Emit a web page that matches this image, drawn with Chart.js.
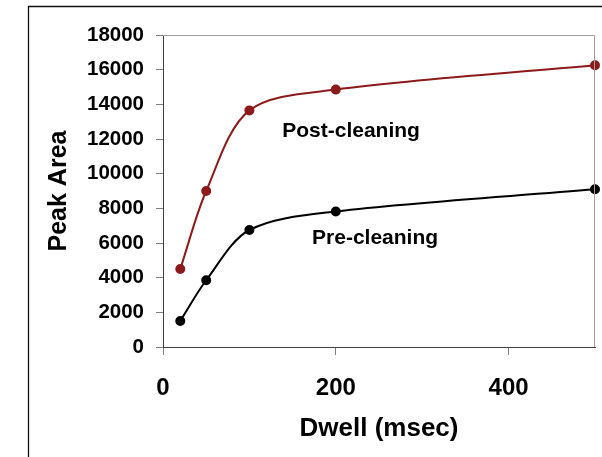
<!DOCTYPE html>
<html>
<head>
<meta charset="utf-8">
<script src="https://cdn.jsdelivr.net/npm/chart.js@4/dist/chart.umd.min.js"></script>
<style>
  html, body { margin: 0; padding: 0; background: #ffffff; }
  canvas { display: block; }
</style>
</head>
<body>
<canvas id="chart" width="602" height="457"></canvas>
<script>
// Dwell time (msec) and measured peak areas
const dwell = [20, 50, 100, 200, 500];
const postCleaning = [4500, 9000, 13650, 14850, 16250];
const preCleaning = [1500, 3850, 6750, 7820, 9100];

const xTicks = [0, 200, 400];
const yTicks = [0, 2000, 4000, 6000, 8000, 10000, 12000, 14000, 16000, 18000];

// Series names are written inside the plot, next to each curve
const seriesLabels = [
  { text: 'Post-cleaning', x: 138, y: 12130 },
  { text: 'Pre-cleaning', x: 172.5, y: 5940 }
];

const FONT = '"Liberation Sans", Arial, Helvetica, sans-serif';
const RED = '#8c1a1a';

const framePlugin = {
  id: 'frame',
  beforeDraw(chart) {
    const ctx = chart.ctx;
    ctx.save();
    ctx.fillStyle = '#ffffff';
    ctx.fillRect(0, 0, chart.width, chart.height);
    // outer frame (left and top edges)
    ctx.strokeStyle = '#111111';
    ctx.lineWidth = 1.3;
    ctx.beginPath();
    ctx.moveTo(28.5, chart.height);
    ctx.lineTo(28.5, 6.5);
    ctx.lineTo(chart.width, 6.5);
    ctx.stroke();
    ctx.restore();
  },
  afterDraw(chart) {
    const ctx = chart.ctx;
    const a = chart.chartArea;
    ctx.save();
    // light border on top and right of the plot area
    ctx.strokeStyle = '#a0a0a0';
    ctx.lineWidth = 1;
    ctx.beginPath();
    ctx.moveTo(a.left, a.top + 0.5);
    ctx.lineTo(a.right - 0.5, a.top + 0.5);
    ctx.lineTo(a.right - 0.5, a.bottom);
    ctx.stroke();
    // series names
    const xs = chart.scales.x, ys = chart.scales.y;
    ctx.fillStyle = '#000000';
    ctx.font = 'bold 21px ' + FONT;
    ctx.textAlign = 'left';
    ctx.textBaseline = 'alphabetic';
    seriesLabels.forEach(l => {
      ctx.fillText(l.text, xs.getPixelForValue(l.x), ys.getPixelForValue(l.y));
    });
    ctx.restore();
  }
};

new Chart(document.getElementById('chart'), {
  type: 'line',
  data: {
    datasets: [
      {
        label: 'Post-cleaning',
        data: dwell.map((d, i) => ({ x: d, y: postCleaning[i] })),
        borderColor: RED,
        backgroundColor: RED,
        pointBackgroundColor: RED,
        pointBorderColor: RED,
        borderWidth: 2,
        pointRadius: 4,
        tension: 0.32,
        clip: false
      },
      {
        label: 'Pre-cleaning',
        data: dwell.map((d, i) => ({ x: d, y: preCleaning[i] })),
        borderColor: '#000000',
        backgroundColor: '#000000',
        pointBackgroundColor: '#000000',
        pointBorderColor: '#000000',
        borderWidth: 2,
        pointRadius: 4,
        tension: 0.32,
        clip: false
      }
    ]
  },
  options: {
    responsive: false,
    animation: false,
    devicePixelRatio: 1,
    layout: { padding: { left: 0, top: 35, right: 7, bottom: 0 } },
    plugins: {
      legend: { display: false },
      tooltip: { enabled: false }
    },
    scales: {
      x: {
        type: 'linear',
        min: 0,
        max: 500,
        afterFit(scale) { scale.height = 110; },
        afterBuildTicks(scale) { scale.ticks = xTicks.map(v => ({ value: v })); },
        ticks: {
          color: '#000000',
          font: { family: FONT, size: 24, weight: 'bold' },
          padding: 19,
          maxRotation: 0,
          callback: v => String(v)
        },
        grid: { drawOnChartArea: false, drawTicks: true, tickLength: 8, color: '#808080' },
        border: { display: true, color: '#404040', width: 1 },
        title: {
          display: true,
          text: 'Dwell (msec)',
          color: '#000000',
          font: { family: FONT, size: 26, weight: 'bold' },
          padding: { top: 13, bottom: 13 }
        }
      },
      y: {
        type: 'linear',
        min: 0,
        max: 18000,
        afterFit(scale) { scale.width = 163; },
        afterBuildTicks(scale) { scale.ticks = yTicks.map(v => ({ value: v })); },
        ticks: {
          color: '#000000',
          font: { family: FONT, size: 20.5, weight: 'bold' },
          padding: 12,
          callback: v => String(v)
        },
        grid: { drawOnChartArea: false, drawTicks: true, tickLength: 7, color: '#808080' },
        border: { display: true, color: '#404040', width: 1 },
        title: {
          display: true,
          text: 'Peak Area',
          color: '#000000',
          font: { family: FONT, size: 25, weight: 'bold' },
          padding: { top: 44, bottom: 44 }
        }
      }
    }
  },
  plugins: [framePlugin]
});
</script>
</body>
</html>
